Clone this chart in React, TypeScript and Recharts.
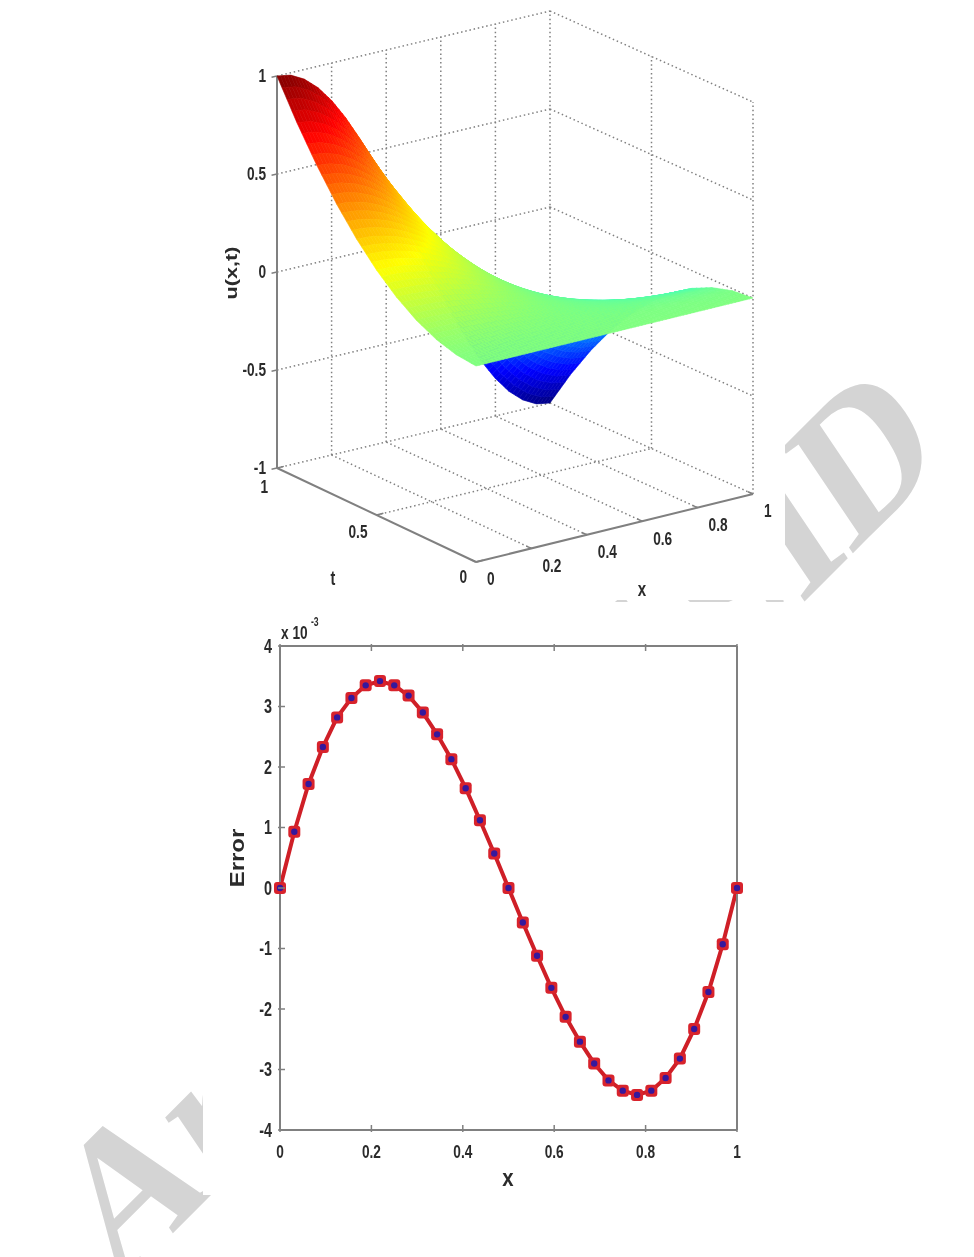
import { ComposedChart, Line, Scatter, ScatterChart, XAxis, YAxis } from 'recharts';

// top plot: surface u(x,t), rows go t = 0 .. 1, columns x = 0 .. 1
const surfaceX = [0, 0.05, 0.1, 0.15, 0.2, 0.25, 0.3, 0.35, 0.4, 0.45, 0.5, 0.55, 0.6, 0.65, 0.7, 0.75, 0.8, 0.85, 0.9, 0.95, 1];
const surfaceT = [0, 0.1, 0.2, 0.3, 0.4, 0.5, 0.6, 0.7, 0.8, 0.9, 1];
const surfaceU = [
    [0, 0, 0, 0, 0, 0, 0, 0, 0, 0, 0, 0, 0, 0, 0, 0, 0, 0, 0, 0, 0],
    [0.01, 0.01, 0.01, 0.009, 0.008, 0.007, 0.006, 0.005, 0.003, 0.002, 0, -0.002, -0.003, -0.005, -0.006, -0.007, -0.008, -0.009, -0.01, -0.01, -0.01],
    [0.04, 0.04, 0.038, 0.036, 0.032, 0.028, 0.024, 0.018, 0.012, 0.006, 0, -0.006, -0.012, -0.018, -0.024, -0.028, -0.032, -0.036, -0.038, -0.04, -0.04],
    [0.09, 0.089, 0.086, 0.08, 0.073, 0.064, 0.053, 0.041, 0.028, 0.014, 0, -0.014, -0.028, -0.041, -0.053, -0.064, -0.073, -0.08, -0.086, -0.089, -0.09],
    [0.16, 0.158, 0.152, 0.143, 0.129, 0.113, 0.094, 0.073, 0.049, 0.025, 0, -0.025, -0.049, -0.073, -0.094, -0.113, -0.129, -0.143, -0.152, -0.158, -0.16],
    [0.25, 0.247, 0.238, 0.223, 0.202, 0.177, 0.147, 0.113, 0.077, 0.039, 0, -0.039, -0.077, -0.113, -0.147, -0.177, -0.202, -0.223, -0.238, -0.247, -0.25],
    [0.36, 0.356, 0.342, 0.321, 0.291, 0.255, 0.212, 0.163, 0.111, 0.056, 0, -0.056, -0.111, -0.163, -0.212, -0.255, -0.291, -0.321, -0.342, -0.356, -0.36],
    [0.49, 0.484, 0.466, 0.437, 0.396, 0.346, 0.288, 0.222, 0.151, 0.077, 0, -0.077, -0.151, -0.222, -0.288, -0.346, -0.396, -0.437, -0.466, -0.484, -0.49],
    [0.64, 0.632, 0.609, 0.57, 0.518, 0.453, 0.376, 0.291, 0.198, 0.1, 0, -0.1, -0.198, -0.291, -0.376, -0.453, -0.518, -0.57, -0.609, -0.632, -0.64],
    [0.81, 0.8, 0.77, 0.722, 0.655, 0.573, 0.476, 0.368, 0.25, 0.127, 0, -0.127, -0.25, -0.368, -0.476, -0.573, -0.655, -0.722, -0.77, -0.8, -0.81],
    [1, 0.988, 0.951, 0.891, 0.809, 0.707, 0.588, 0.454, 0.309, 0.156, 0, -0.156, -0.309, -0.454, -0.588, -0.707, -0.809, -0.891, -0.951, -0.988, -1],
];
const xTicks3d = [0, 0.2, 0.4, 0.6, 0.8, 1];
const tTicks3d = [0, 0.5, 1];
const zTicks3d = [-1, -0.5, 0, 0.5, 1];

// bottom plot: error curve
const errorX = [0, 0.0313, 0.0625, 0.0938, 0.125, 0.1563, 0.1875, 0.2188, 0.25, 0.2813, 0.3125, 0.3438, 0.375, 0.4063, 0.4375, 0.4688, 0.5, 0.5313, 0.5625, 0.5938, 0.625, 0.6563, 0.6875, 0.7188, 0.75, 0.7813, 0.8125, 0.8438, 0.875, 0.9063, 0.9375, 0.9688, 1];
const errorY = [0, 0.93, 1.72, 2.33, 2.82, 3.14, 3.35, 3.42, 3.35, 3.18, 2.9, 2.54, 2.13, 1.65, 1.12, 0.57, 0, -0.57, -1.12, -1.65, -2.13, -2.54, -2.9, -3.18, -3.35, -3.42, -3.35, -3.14, -2.82, -2.33, -1.72, -0.93, 0];
const errorXTicks = [0, 0.2, 0.4, 0.6, 0.8, 1];
const errorYTicks = [-4, -3, -2, -1, 0, 1, 2, 3, 4];

const FONT = '"Liberation Sans", Arial, sans-serif';
const INK = '#2b2b2b';
const AXIS = '#808080';

// oblique view of the matlab box, in page pixels
const project = (x: number, t: number, z: number) => ({
    px: 476 + 277 * x - 199 * t - 4 * x * t,
    py: 562 - 68 * x - 94 * t + 3 * x * t - 196 * (z + 1),
});

const seg = (a: number[], b: number[]) => [project(a[0], a[1], a[2]), project(b[0], b[1], b[2])];

const gridSegs: any[] = [];
xTicks3d.forEach((x) => {
    if (x > 0) gridSegs.push(seg([x, 1, -1], [x, 1, 1]));
    if (x > 0 && x < 1) gridSegs.push(seg([x, 0, -1], [x, 1, -1]));
});
[0.5, 0].forEach((t) => gridSegs.push(seg([1, t, -1], [1, t, 1])));
gridSegs.push(seg([0, 0.5, -1], [1, 0.5, -1]));
zTicks3d.forEach((z) => {
    gridSegs.push(seg([0, 1, z], [1, 1, z]));
    gridSegs.push(seg([1, 1, z], [1, 0, z]));
});

const axisSegs = [seg([0, 1, -1], [0, 1, 1]), seg([0, 1, -1], [0, 0, -1]), seg([0, 0, -1], [1, 0, -1])];
const tickSegs = [
    ...xTicks3d.map((x) => seg([x, 0, -1], [x, 0.025, -1])),
    ...tTicks3d.map((t) => seg([0, t, -1], [0.025, t, -1])),
    ...zTicks3d.map((z) => seg([0, 1, z], [-0.02, 1, z])),
];

const labels3d = [
    ...xTicks3d.map((x) => ({ ...project(x, 0, -1), dx: 11, dy: 17, text: String(x), anchor: 'start' })),
    ...tTicks3d.map((t) => ({ ...project(0, t, -1), dx: -9, dy: 15 + 4 * t, text: String(t), anchor: 'end' })),
    ...zTicks3d.map((z) => ({ ...project(0, 1, z), dx: -11, dy: 0, text: String(z), anchor: 'end' })),
].map((l) => ({ ...l, px: l.px + l.dx, py: l.py + l.dy }));

const surfaceNodes = surfaceT.flatMap((t, i) => surfaceX.map((x, j) => project(x, t, surfaceU[i][j])));

const jet = (u: number) => {
    const v = (u + 1) / 2;
    const ch = (c: number) => Math.round(255 * Math.min(1, Math.max(0, c)));
    const r = 1.5 - Math.abs(4 * v - 3);
    const g = 1.5 - Math.abs(4 * v - 2);
    const b = 1.5 - Math.abs(4 * v - 1);
    return `rgb(${ch(r)},${ch(g)},${ch(b)})`;
};

// painted back to front, each grid cell shaded smoothly like "shading interp"
const SurfacePatches = ({ points }: any) => {
    const nx = surfaceX.length;
    const nt = surfaceT.length;
    const sub = 4;
    const cells: any[] = [];
    const mix = (a: number, b: number, c: number, d: number, s: number, r: number) =>
        (a * (1 - s) + b * s) * (1 - r) + (c * (1 - s) + d * s) * r;
    for (let i = nt - 2; i >= 0; i--) {
        for (let j = nx - 2; j >= 0; j--) {
            const p00 = points[i * nx + j];
            const p01 = points[i * nx + j + 1];
            const p10 = points[(i + 1) * nx + j];
            const p11 = points[(i + 1) * nx + j + 1];
            const u = surfaceU;
            for (let a = sub - 1; a >= 0; a--) {
                for (let b = sub - 1; b >= 0; b--) {
                    const corner = (s: number, r: number) =>
                        `${mix(p00.x, p01.x, p10.x, p11.x, s, r).toFixed(2)},${mix(p00.y, p01.y, p10.y, p11.y, s, r).toFixed(2)}`;
                    const s0 = b / sub;
                    const s1 = (b + 1) / sub;
                    const r0 = a / sub;
                    const r1 = (a + 1) / sub;
                    const color = jet(mix(u[i][j], u[i][j + 1], u[i + 1][j], u[i + 1][j + 1], (s0 + s1) / 2, (r0 + r1) / 2));
                    cells.push(
                        <polygon
                            key={`${i}-${j}-${a}-${b}`}
                            points={`${corner(s0, r0)} ${corner(s1, r0)} ${corner(s1, r1)} ${corner(s0, r1)}`}
                            fill={color}
                            stroke={color}
                            strokeWidth={0.6}
                        />
                    );
                }
            }
        }
    }
    return <g>{cells}</g>;
};

const noDot = () => <g />;

const NarrowText = ({ x, y, text, anchor = 'middle', size = 19, squeeze = 0.72 }: any) => (
    <text
        transform={`translate(${x},${y}) scale(${squeeze},1)`}
        textAnchor={anchor}
        dominantBaseline="central"
        fontFamily={FONT}
        fontWeight="bold"
        fontSize={size}
        fill={INK}
    >
        {text}
    </text>
);

const LabelDot = (props: any) => <NarrowText x={props.cx} y={props.cy} text={props.payload.text} anchor={props.payload.anchor} />;

const BottomTick = ({ x, y, payload }: any) => (
    <g>
        <line x1={x} y1={y} x2={x} y2={y - 7} stroke={AXIS} strokeWidth={1.5} />
        <NarrowText x={x} y={y + 20} text={String(payload.value)} />
    </g>
);
const TopTick = ({ x, y }: any) => <line x1={x} y1={y} x2={x} y2={y + 7} stroke={AXIS} strokeWidth={1.5} />;
const LeftTick = ({ x, y, payload }: any) => (
    <g>
        <line x1={x} y1={y} x2={x + 7} y2={y} stroke={AXIS} strokeWidth={1.5} />
        <NarrowText x={x - 6} y={y} text={String(payload.value)} anchor="end" size={20} />
    </g>
);
const RightTick = ({ x, y }: any) => <line x1={x} y1={y} x2={x - 7} y2={y} stroke={AXIS} strokeWidth={1.5} />;

const ErrorDot = ({ cx, cy, index }: any) => (
    <g key={index}>
        <rect x={cx - 6} y={cy - 6} width={12} height={12} rx={3} fill="#d8232c" />
        <circle cx={cx} cy={cy} r={3.2} fill="#35189c" />
    </g>
);

export default function App() {
    const errorData = errorX.map((x, i) => ({ x, y: errorY[i] }));
    const boxStyle = { position: 'absolute', left: 203, width: 582, background: 'white' } as const;

    return (
        <div style={{ position: 'absolute', left: 0, top: 0, width: 974, height: 1257, background: 'white', overflow: 'hidden' }}>
            <svg width={974} height={1257} style={{ position: 'absolute', left: 0, top: 0 }}>
                <text
                    transform="translate(116,1290) rotate(-45) skewX(-11)"
                    fontFamily='"Liberation Serif", serif'
                    fontWeight="bold"
                    fontSize={190}
                    fill="#d4d4d4"
                    textLength={1176}
                >
                    Archive of SID
                </text>
            </svg>

            <div style={{ ...boxStyle, top: 0, height: 600, filter: 'blur(0.4px)' }}>
                <ScatterChart width={582} height={600} margin={{ top: 0, right: 0, bottom: 0, left: 0 }}>
                    <XAxis type="number" dataKey="px" domain={[203, 785]} hide />
                    <YAxis type="number" dataKey="py" domain={[0, 600]} reversed hide />
                    {gridSegs.map((d, i) => (
                        <Scatter key={`grid-${i}`} data={d} shape={noDot} line={{ stroke: '#808080', strokeWidth: 1.5, strokeDasharray: '1.5 2.8' }} isAnimationActive={false} />
                    ))}
                    {axisSegs.map((d, i) => (
                        <Scatter key={`axis-${i}`} data={d} shape={noDot} line={{ stroke: AXIS, strokeWidth: 2 }} isAnimationActive={false} />
                    ))}
                    {tickSegs.map((d, i) => (
                        <Scatter key={`tick-${i}`} data={d} shape={noDot} line={{ stroke: AXIS, strokeWidth: 1.5 }} isAnimationActive={false} />
                    ))}
                    <Scatter data={surfaceNodes} shape={noDot} line={(props: any) => <SurfacePatches points={props.points} />} isAnimationActive={false} />
                    <Scatter data={labels3d} shape={LabelDot} isAnimationActive={false} />
                </ScatterChart>
                <svg width={582} height={600} style={{ position: 'absolute', left: 0, top: 0 }}>
                    <NarrowText x={130} y={578} text="t" size={20} />
                    <NarrowText x={439} y={589} text="x" size={21} />
                    <g transform="translate(29,273) rotate(-90) scale(1.35,1)">
                        <text textAnchor="middle" dominantBaseline="central" fontFamily={FONT} fontWeight="bold" fontSize={16} fill={INK}>
                            u(x,t)
                        </text>
                    </g>
                </svg>
            </div>

            <div style={{ ...boxStyle, top: 602, height: 593, filter: 'blur(0.4px)' }}>
                <ComposedChart width={582} height={593} data={errorData} margin={{ top: 43, right: 47, bottom: 64, left: 0 }}>
                    <XAxis type="number" dataKey="x" domain={[0, 1]} ticks={errorXTicks} interval={0} height={1} tickSize={0} axisLine={{ stroke: AXIS, strokeWidth: 2 }} tickLine={false} tick={BottomTick} />
                    <XAxis xAxisId="top" orientation="top" type="number" dataKey="x" domain={[0, 1]} ticks={errorXTicks} interval={0} height={1} tickSize={0} axisLine={{ stroke: AXIS, strokeWidth: 2 }} tickLine={false} tick={TopTick} />
                    <YAxis type="number" domain={[-4, 4]} ticks={errorYTicks} interval={0} width={77} tickSize={0} axisLine={{ stroke: AXIS, strokeWidth: 2 }} tickLine={false} tick={LeftTick} />
                    <YAxis yAxisId="right" orientation="right" type="number" domain={[-4, 4]} ticks={errorYTicks} interval={0} width={1} tickSize={0} axisLine={{ stroke: AXIS, strokeWidth: 2 }} tickLine={false} tick={RightTick} />
                    <Line type="linear" dataKey="y" stroke="#cf1f27" strokeWidth={4} dot={ErrorDot} activeDot={false} isAnimationActive={false} />
                </ComposedChart>
                <svg width={582} height={593} style={{ position: 'absolute', left: 0, top: 0 }}>
                    <NarrowText x={78} y={31} text="x 10" anchor="start" size={19} />
                    <NarrowText x={108} y={20} text="-3" anchor="start" size={12} />
                    <g transform="translate(34,256) rotate(-90) scale(1.2,1)">
                        <text textAnchor="middle" dominantBaseline="central" fontFamily={FONT} fontWeight="bold" fontSize={20} fill={INK}>
                            Error
                        </text>
                    </g>
                    <NarrowText x={305} y={576} text="x" size={24} squeeze={0.85} />
                </svg>
            </div>
        </div>
    );
}
